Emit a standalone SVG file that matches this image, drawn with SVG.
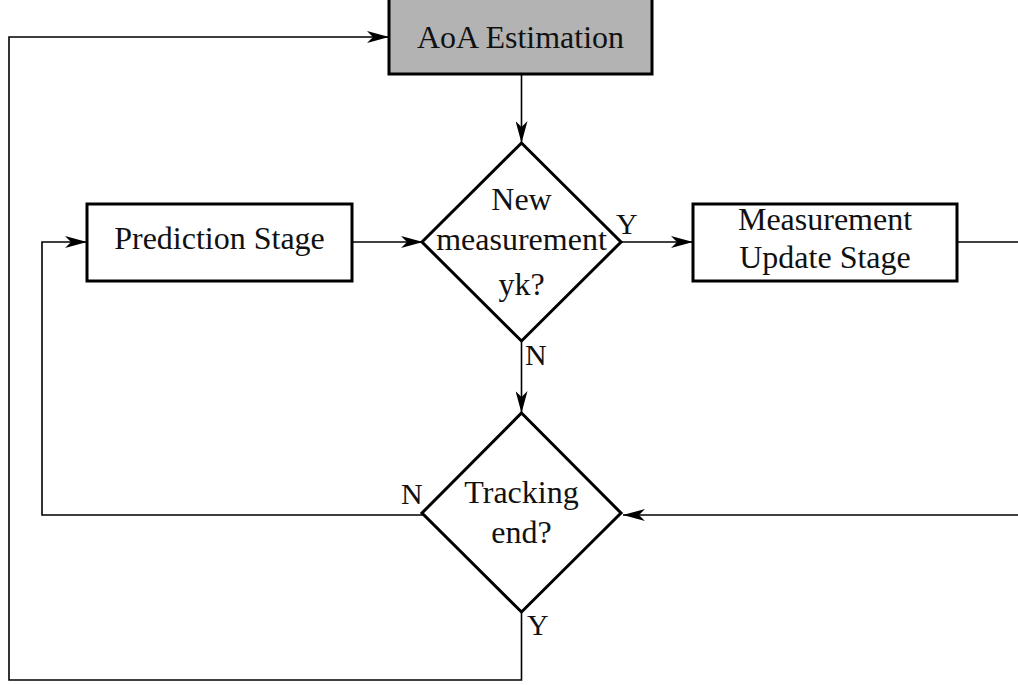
<svg xmlns="http://www.w3.org/2000/svg" width="1018" height="685" viewBox="0 0 1018 685">
<defs>
<marker id="arr" viewBox="0 0 22 12" refX="22" refY="6" markerWidth="22" markerHeight="12" orient="auto" markerUnits="userSpaceOnUse">
<path d="M0,0 L22,6 L0,12 L6,6 Z" fill="#000"/>
</marker>
</defs>
<style>
.box{fill:#fff;stroke:#000;stroke-width:3}
.gray{fill:#b3b3b3}
.t{font-family:"Liberation Serif","Times New Roman",serif;font-size:32px;fill:#111;text-anchor:middle}
.lbl{font-family:"Liberation Serif","Times New Roman",serif;font-size:30px;fill:#111}
.c{fill:none;stroke:#000;stroke-width:1.6}
</style>
<rect width="1018" height="685" fill="#fff"/>
<g id="connectors">
<path class="c" d="M521.5,74 L521.5,143" marker-end="url(#arr)"/>
<path class="c" d="M352,242 L423,242" marker-end="url(#arr)"/>
<path class="c" d="M622,242 L693,242" marker-end="url(#arr)"/>
<path class="c" d="M957,242 L1020,242"/>
<path class="c" d="M1020,515 L623,515" marker-end="url(#arr)"/>
<path class="c" d="M521.5,342 L521.5,413" marker-end="url(#arr)"/>
<path class="c" d="M423,515 L42,515 L42,242 L87,242" marker-end="url(#arr)"/>
<path class="c" d="M521.5,612 L521.5,680 L9,680 L9,37 L389,37" marker-end="url(#arr)"/>
<text class="lbl" x="616" y="234">Y</text>
<text class="lbl" x="525" y="365">N</text>
<text class="lbl" x="401" y="504">N</text>
<text class="lbl" x="527" y="635">Y</text>
</g>
<g id="aoa">
<rect class="box gray" x="389" y="-5" width="263" height="79"/>
<text class="t" x="520.5" y="48">AoA Estimation</text>
</g>
<g id="newmeas">
<polygon class="box" points="521.5,143 621,242 521.5,341 422,242"/>
<text class="t" x="521.5" y="210">New</text>
<text class="t" x="521.5" y="250">measurement</text>
<text class="t" x="521.5" y="295">yk?</text>
</g>
<g id="prediction">
<rect class="box" x="87" y="204" width="265" height="77"/>
<text class="t" x="219.5" y="249">Prediction Stage</text>
</g>
<g id="update">
<rect class="box" x="693" y="204" width="264" height="77"/>
<text class="t" x="825" y="230">Measurement</text>
<text class="t" x="825" y="268">Update Stage</text>
</g>
<g id="tracking">
<polygon class="box" points="521.5,413 621,513 521.5,612 422,513"/>
<text class="t" x="521.5" y="503">Tracking</text>
<text class="t" x="521.5" y="543">end?</text>
</g>
</svg>
